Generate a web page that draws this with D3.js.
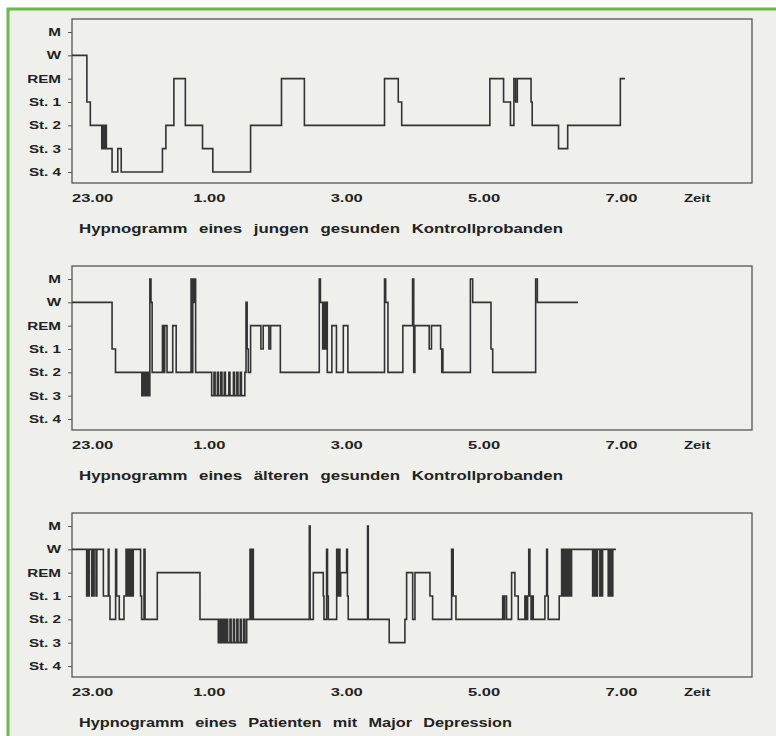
<!DOCTYPE html>
<html>
<head>
<meta charset="utf-8">
<script src="https://cdn.jsdelivr.net/npm/d3@7"></script>
<style>
  body { margin: 0; background: #fff; }
  text { font-family: "Liberation Sans", Arial, sans-serif; font-weight: bold; fill: #222; }
</style>
</head>
<body>
<div id="chart"></div>
<script>
// sleep stages, top to bottom
var stages = ["M", "W", "REM", "St. 1", "St. 2", "St. 3", "St. 4"];

// time axis: minutes after 23.00
var timeTicks = [0, 120, 240, 360, 480];
var timeLabels = ["23.00", "1.00", "3.00", "5.00", "7.00"];

var captions = [
  "Hypnogramm eines jungen gesunden Kontrollprobanden",
  "Hypnogramm eines älteren gesunden Kontrollprobanden",
  "Hypnogramm eines Patienten mit Major Depression"
];

// [minute, stage index] change points, last one ends the record
var youngControl = [
  [0,1],[13,3],[16,4],[26,5],[27,4],[28,5],[29,4],[30,5],[35,6],[40,5],[43,6],
  [79,5],[82,4],[89,2],[99,4],[114,5],[123,6],[156,4],[183,2],[203,4],
  [273,2],[285,3],[288,4],[365,2],[377,3],[383,4],[386,2],[387.5,3],[389,2],
  [401,3],[402,4],[425,5],[433,4],[479,2],[483,2]
];

var olderControl = [
  [0,1],[35,3],[38,4],[61,5],[62,4],[63,5],[64,4],[65,5],[66,4],[67,5],[68,0],
  [69,1],[70,4],[79,2],[80,4],[81,2],[83,4],[88,2],[91,4],[104,0],[105,4],
  [105.5,0],[106,1],[107,0],[108,4],[122,5],[124,4],[125,5],[127,4],[128,5],
  [130,4],[131,5],[133,4],[134,5],[137,4],[138,5],[141,4],[142,5],[144,4],
  [145,5],[147,4],[148,5],[151,4],[152,1],[153,3],[154,4],[156,2],[165,3],
  [167,2],[172,3],[173.5,2],[182,4],[216,0],[217,1],[219,3],[220,1],[221,3],
  [222,1],[223,4],[227,2],[231,4],[237,2],[241,4],[273,0],[274,1],[276,4],
  [289,2],[297.5,0],[298.5,4],[299.5,2],[312,3],[314,2],[322,3],[323,4],
  [323.5,3],[324,4],[348,0],[350,1],[366,3],[367.5,4],[405,0],[406.5,1],[442,1]
];

var depressed = [
  [0,1],[12.8,3],[13.5,1],[14.3,3],[15,1],[17.2,3],[17.9,1],[18.6,3],[19.3,1],
  [21,3],[21.7,1],[27.4,3],[31.7,1],[32.3,3],[33.2,4],[38.1,1],[39,3],[41.3,4],
  [45.4,3],[47.2,1],[48,3],[48.5,1],[49,3],[49.5,1],[50,3],[50.5,1],[51,3],
  [51.5,1],[52,3],[52.5,1],[53,3],[53.5,1],[59.9,3],[60.8,4],[62.9,1],[63.8,4],
  [74.5,2],[111.8,4],[127.8,5],[129,4],[130,5],[131,4],[132,5],[133,4],[134,5],
  [135,4],[136,5],[138,4],[139,5],[141,4],[142,5],[144,4],[145,5],[147,4],
  [148,5],[150,4],[151,5],[152.6,4],[155.5,1],[156.5,4],[157.2,1],[158.4,4],
  [207.3,0],[208,4],[210.8,2],[219.5,3],[220.1,4],[222.4,1],[223.2,3],[223.9,4],
  [231.2,1],[231.8,3],[232.4,1],[233,3],[233.5,1],[234,3],[234.7,2],[239.9,1],
  [240.6,3],[241.3,4],[258.2,0],[258.8,4],[277.1,5],[290.8,4],[292.3,2],
  [297.6,4],[299.6,2],[312.7,3],[315,4],[331.6,1],[333,3],[335.4,4],[376.2,3],
  [377,4],[378,3],[379.6,4],[384,2],[386.9,3],[389.8,4],[395.6,3],[397,4],
  [398,3],[399,1],[400,3],[401,4],[402,3],[402.9,4],[413.1,3],[414.6,1],
  [415.3,3],[416,4],[425.6,3],[427.7,1],[428.5,3],[429.2,1],[430,3],[430.7,1],
  [431.4,3],[432.1,1],[433,3],[434,1],[435,3],[436.4,1],[454.8,3],[455.6,1],
  [456.4,3],[457.2,1],[458.3,3],[459,1],[461.1,3],[461.9,1],[462.7,3],[463.5,1],
  [468.4,3],[469.2,1],[470,3],[470.8,1],[471.6,3],[472.4,1],[475.1,1]
];

var panels = [youngControl, olderControl, depressed];
var captionWidths = [484, 484, 433];

var svgWidth = 776;
var svgHeight = 736;

var svg = d3.select("#chart")
  .append("svg")
  .attr("width", svgWidth)
  .attr("height", svgHeight);

// scanned page with green frame
svg.append("rect")
  .attr("x", 8).attr("y", 9)
  .attr("width", 780).attr("height", 740)
  .attr("fill", "#efefec")
  .attr("stroke", "#6cb84a")
  .attr("stroke-width", 3);

var x = d3.scaleLinear()
  .domain([0, 594])
  .range([72, 752]);

var line = d3.line()
  .x(d => x(d[0]))
  .y(d => d.y)
  .curve(d3.curveStepAfter);

// the scan is stretched sideways, so widen the lettering
function stretch(sel, factor) {
  sel.each(function() {
    var w = this.getComputedTextLength();
    d3.select(this)
      .attr("textLength", w * factor)
      .attr("lengthAdjust", "spacingAndGlyphs");
  });
}

panels.forEach(function(data, i) {
  var top = 19 + i * 247;
  var g = svg.append("g");

  var y = d3.scalePoint()
    .domain(stages)
    .range([top + 13, top + 153]);

  // plot box
  g.append("rect")
    .attr("x", 72).attr("y", top)
    .attr("width", 680).attr("height", 164)
    .attr("fill", "none")
    .attr("stroke", "#555")
    .attr("stroke-width", 1.3);

  // stage axis
  var yAxis = d3.axisLeft(y).tickSize(4).tickPadding(7);
  var ya = g.append("g")
    .attr("transform", "translate(72,0)")
    .call(yAxis);
  ya.select(".domain").remove();
  ya.selectAll("line").attr("stroke", "#555");
  ya.selectAll("text")
    .attr("fill", "#222")
    .style("font-size", "11px")
    .call(stretch, 1.38);

  // time labels
  g.selectAll(".tl")
    .data(timeTicks)
    .enter()
    .append("text")
    .attr("x", d => x(d))
    .attr("y", top + 183)
    .attr("text-anchor", (d, j) => j === 0 ? "start" : "middle")
    .style("font-size", "11px")
    .text((d, j) => timeLabels[j])
    .call(stretch, 1.5);

  g.append("text")
    .attr("x", 684)
    .attr("y", top + 183)
    .style("font-size", "11px")
    .text("Zeit")
    .call(stretch, 1.35);

  // caption
  g.append("text")
    .attr("x", 79)
    .attr("y", top + 214)
    .attr("textLength", captionWidths[i])
    .attr("lengthAdjust", "spacingAndGlyphs")
    .style("font-size", "12px")
    .style("word-spacing", "5px")
    .text(captions[i]);

  // hypnogram
  var pts = data.map(d => { var p = [d[0], d[1]]; p.y = y(stages[d[1]]); return p; });
  g.append("path")
    .datum(pts)
    .attr("d", line)
    .attr("fill", "none")
    .attr("stroke", "#333")
    .attr("stroke-width", 1.6);
});
</script>
</body>
</html>
